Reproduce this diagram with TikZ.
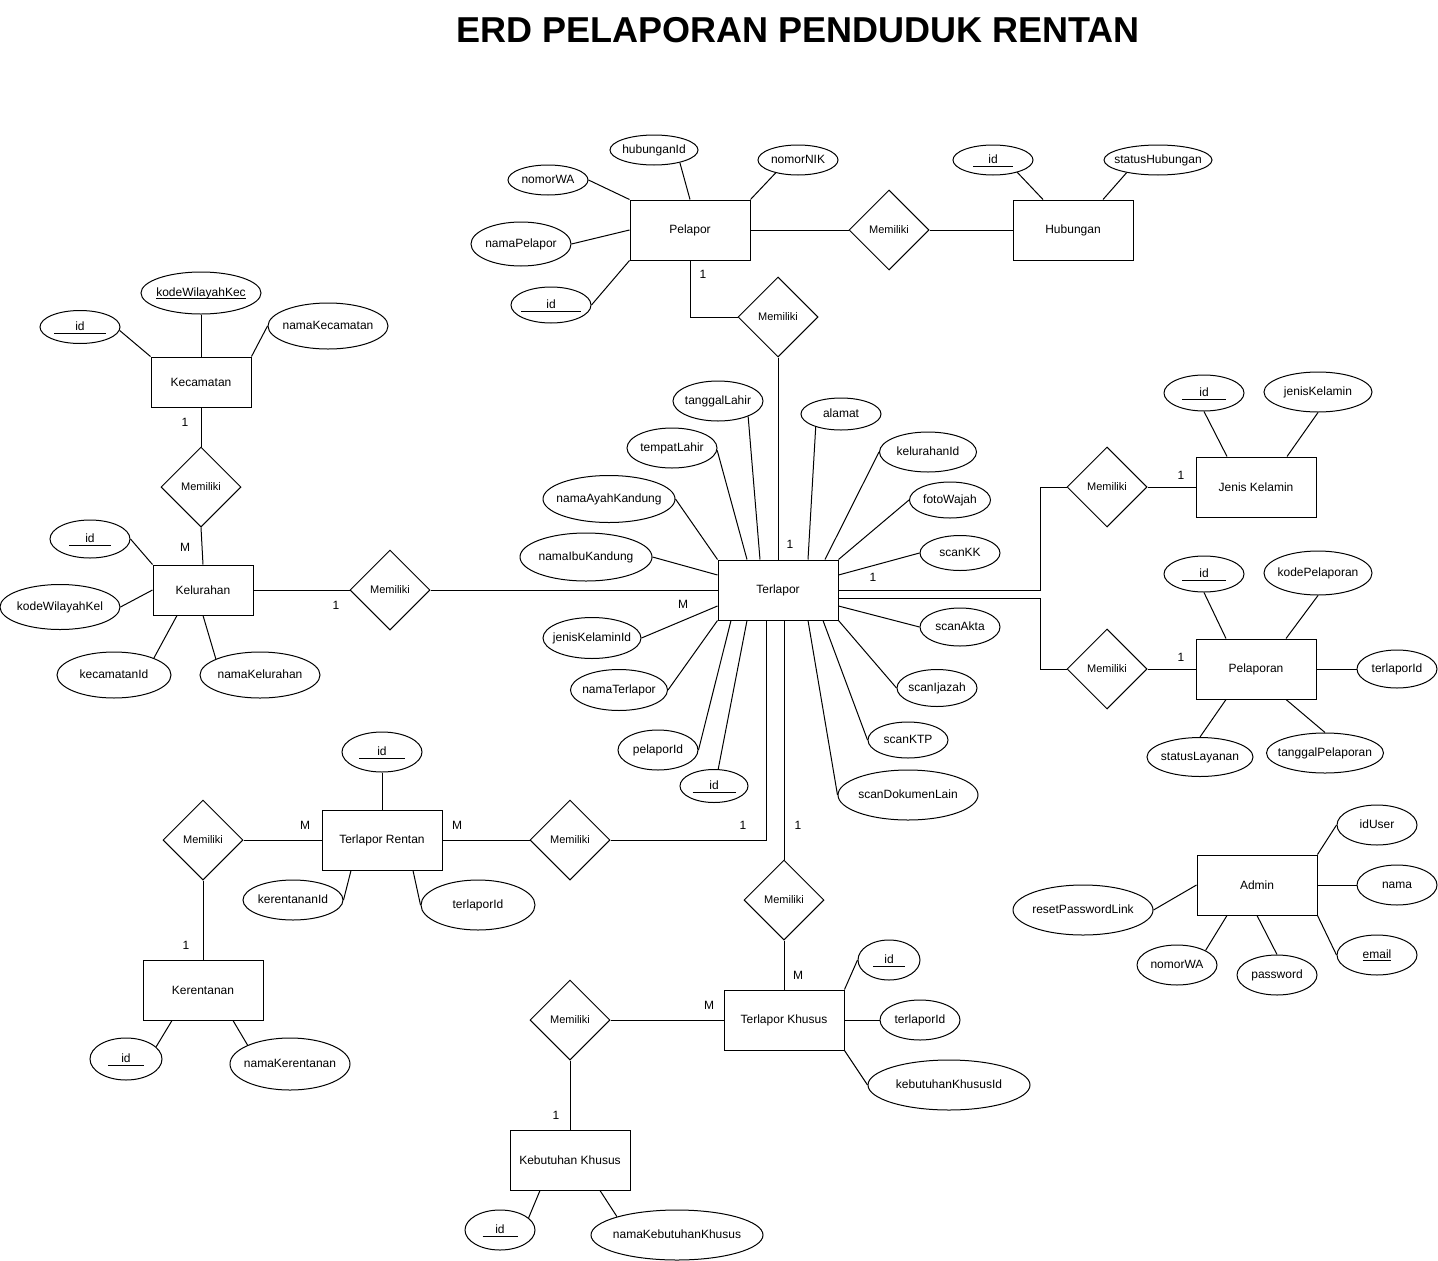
\documentclass[tikz,border=0pt]{standalone}
\usepackage{fontspec}
\setmainfont{Liberation Sans}
\usetikzlibrary{shapes.geometric}
\newcommand\fsz[1]{\fontsize{#1}{#1}\selectfont}
\newcommand\tx[1]{\raisebox{-0.33em}[0pt][0pt]{\makebox[0pt]{#1}}}
\newcommand\uid[1]{\makebox[#1pt]{id}\llap{\rule[-2.5pt]{#1pt}{0.8pt}}}
\newcommand\utext[1]{\setbox0=\hbox{#1}\copy0\llap{\rule[-2pt]{\wd0}{0.8pt}}}
\begin{document}
\begin{tikzpicture}[x=1pt,y=-1pt,line width=1pt,
  ent/.style={draw,rectangle,minimum width=120pt,minimum height=60pt,inner sep=0pt,font=\fsz{12}},
  sment/.style={ent,minimum width=100pt,minimum height=50pt},
  rel/.style={draw,diamond,minimum width=80pt,minimum height=80pt,inner sep=0pt,font=\fsz{11}},
  att/.style 2 args={draw,ellipse,minimum width=#1pt,minimum height=#2pt,inner sep=0pt,font=\fsz{12}},
  card/.style={font=\fsz{12},inner sep=0pt}]
\fill[white] (0,0) rectangle (1438,1261);
\useasboundingbox (0,0) rectangle (1438,1261);

\node[font=\fsz{36}\bfseries] (title) at (798,30) {ERD PELAPORAN PENDUDUK RENTAN};

% ---------- entities ----------
\node[ent] (pel) at (690,230) {Pelapor};
\node[ent] (hub) at (1073,230) {Hubungan};
\node[sment] (kec) at (201,382) {Kecamatan};
\node[sment] (kel) at (203,590) {Kelurahan};
\node[ent] (ter) at (778,590) {Terlapor};
\node[ent] (jk) at (1256,487) {Jenis Kelamin};
\node[ent] (plp) at (1256,669) {Pelaporan};
\node[ent] (adm) at (1257,885) {Admin};
\node[ent] (tr) at (382,840) {Terlapor Rentan};
\node[ent] (ker) at (203,990) {Kerentanan};
\node[ent] (tk) at (784,1020) {Terlapor Khusus};
\node[ent] (kk) at (570,1160) {Kebutuhan Khusus};

% ---------- relationships ----------
\node[rel] (d1) at (889,230) {Memiliki};
\node[rel] (d2) at (778,317) {Memiliki};
\node[rel] (d3) at (201,487) {Memiliki};
\node[rel] (d4) at (390,590) {Memiliki};
\node[rel] (d5) at (1107,487) {Memiliki};
\node[rel] (d6) at (1107,669) {Memiliki};
\node[rel] (d7) at (570,840) {Memiliki};
\node[rel] (d8) at (203,840) {Memiliki};
\node[rel] (d9) at (784,900) {Memiliki};
\node[rel] (d10) at (570,1020) {Memiliki};

% ---------- attributes ----------
% Pelapor
\node[att={88}{30}] (p_hub) at (654,150) {\tx{hubunganId}};
\node[att={80}{30}] (p_nik) at (798,160) {\tx{nomorNIK}};
\node[att={80}{30}] (p_wa) at (548,180) {\tx{nomorWA}};
\node[att={100}{44}] (p_nama) at (521,244) {\tx{namaPelapor}};
\node[att={80}{36}] (p_id) at (551,305) {\tx{\uid{60}}};
% Hubungan
\node[att={80}{30}] (h_id) at (993,160) {\tx{\uid{40}}};
\node[att={108}{30}] (h_st) at (1158,160) {\tx{statusHubungan}};
% Kecamatan
\node[att={120}{42}] (kc_kode) at (201,293) {\tx{\utext{kodeWilayahKec}}};
\node[att={80}{33}] (kc_id) at (80,327) {\tx{\uid{52}}};
\node[att={120}{46}] (kc_nama) at (328,326) {\tx{namaKecamatan}};
% Kelurahan
\node[att={80}{38}] (kl_id) at (90,539) {\tx{\uid{42}}};
\node[att={120}{45}] (kl_kode) at (60,607) {\tx{kodeWilayahKel}};
\node[att={114}{46}] (kl_kec) at (114,675) {\tx{kecamatanId}};
\node[att={120}{46}] (kl_nama) at (260,675) {\tx{namaKelurahan}};
% Terlapor
\node[att={90}{40}] (t_tgl) at (718,401) {\tx{tanggalLahir}};
\node[att={90}{40}] (t_tmp) at (672,448) {\tx{tempatLahir}};
\node[att={132}{47}] (t_ayah) at (609,499) {\tx{namaAyahKandung}};
\node[att={132}{48}] (t_ibu) at (586,557) {\tx{namaIbuKandung}};
\node[att={98}{41}] (t_jk) at (592,638) {\tx{jenisKelaminId}};
\node[att={97}{41}] (t_nama) at (619,690) {\tx{namaTerlapor}};
\node[att={80}{40}] (t_pel) at (658,750) {\tx{pelaporId}};
\node[att={68}{33}] (t_id) at (714,786) {\tx{\uid{43}}};
\node[att={80}{32}] (t_al) at (841,414) {\tx{alamat}};
\node[att={97}{40}] (t_kel) at (928,452) {\tx{kelurahanId}};
\node[att={81}{36}] (t_foto) at (950,500) {\tx{fotoWajah}};
\node[att={80}{35}] (t_kk) at (960,553) {\tx{scanKK}};
\node[att={80}{38}] (t_akta) at (960,627) {\tx{scanAkta}};
\node[att={80}{37}] (t_ijz) at (937,688) {\tx{scanIjazah}};
\node[att={80}{36}] (t_ktp) at (908,740) {\tx{scanKTP}};
\node[att={140}{50}] (t_dok) at (908,795) {\tx{scanDokumenLain}};
% Jenis Kelamin
\node[att={80}{36}] (jk_id) at (1204,393) {\tx{\uid{44}}};
\node[att={108}{40}] (jk_jk) at (1318,392) {\tx{jenisKelamin}};
% Pelaporan
\node[att={80}{36}] (pl_id) at (1204,574) {\tx{\uid{44}}};
\node[att={108}{44}] (pl_kode) at (1318,573) {\tx{kodePelaporan}};
\node[att={80}{38}] (pl_ter) at (1397,669) {\tx{terlaporId}};
\node[att={106}{39}] (pl_st) at (1200,757) {\tx{statusLayanan}};
\node[att={117}{40}] (pl_tgl) at (1325,753) {\tx{tanggalPelaporan}};
% Admin
\node[att={80}{40}] (a_id) at (1377,825) {\tx{idUser}};
\node[att={80}{40}] (a_nama) at (1397,885) {\tx{nama}};
\node[att={80}{40}] (a_mail) at (1377,955) {\tx{\utext{email}}};
\node[att={80}{40}] (a_pw) at (1277,975) {\tx{password}};
\node[att={80}{40}] (a_wa) at (1177,965) {\tx{nomorWA}};
\node[att={140}{50}] (a_rst) at (1083,910) {\tx{resetPasswordLink}};
% Terlapor Rentan
\node[att={80}{40}] (tr_id) at (382,752) {\tx{\uid{46}}};
\node[att={100}{40}] (tr_ker) at (293,900) {\tx{kerentananId}};
\node[att={114}{50}] (tr_ter) at (478,905) {\tx{terlaporId}};
% Kerentanan
\node[att={72}{42}] (kr_id) at (126,1059) {\tx{\uid{36}}};
\node[att={120}{52}] (kr_nama) at (290,1064) {\tx{namaKerentanan}};
% Terlapor Khusus
\node[att={62}{40}] (tk_id) at (889,960) {\tx{\uid{32}}};
\node[att={80}{40}] (tk_ter) at (920,1020) {\tx{terlaporId}};
\node[att={162}{50}] (tk_kk) at (949,1085) {\tx{kebutuhanKhususId}};
% Kebutuhan Khusus
\node[att={70}{40}] (kb_id) at (500,1230) {\tx{\uid{35}}};
\node[att={172}{50}] (kb_nama) at (677,1235) {\tx{namaKebutuhanKhusus}};

% ---------- cardinalities ----------
\node[card] (c1) at (703,274) {1};
\node[card] (c2) at (790,544) {1};
\node[card] (c3) at (185,422) {1};
\node[card] (c4) at (185,547) {M};
\node[card] (c5) at (336,605) {1};
\node[card] (c6) at (683,604) {M};
\node[card] (c7) at (1181,475) {1};
\node[card] (c8) at (873,577) {1};
\node[card] (c9) at (1181,657) {1};
\node[card] (c10) at (305,825) {M};
\node[card] (c11) at (457,825) {M};
\node[card] (c12) at (743,825) {1};
\node[card] (c13) at (798,825) {1};
\node[card] (c14) at (186,945) {1};
\node[card] (c15) at (798,975) {M};
\node[card] (c16) at (709,1005) {M};
\node[card] (c17) at (556,1115) {1};

% ---------- relationship lines ----------
\draw (pel.east) -- (d1.west);
\draw (d1.east) -- (hub.west);
\draw (pel.south) |- (d2.west);
\draw (d2.south) -- (ter.north);
\draw (kec.south) -- (d3.north);
\draw (d3.south) -- (kel.north);
\draw (kel.east) -- (d4.west);
\draw (d4.east) -- (ter.west);
\draw (ter.east) -| ([xshift=-26pt]d5.west) -- (d5.west);
\draw (d5.east) -- (jk.west);
\draw ([yshift=-8pt]ter.east) -| ([xshift=-26pt]d6.west) -- (d6.west);
\draw (d6.east) -- (plp.west);
\draw (tr.east) -- (d7.west);
\draw (d7.east) -| ([xshift=-12pt]ter.south);
\draw (d8.east) -- (tr.west);
\draw (d8.south) -- (ker.north);
\draw ([xshift=6pt]ter.south) -- (d9.north);
\draw (d9.south) -- (tk.north);
\draw (d10.east) -- (tk.west);
\draw (d10.south) -- (kk.north);

% ---------- attribute lines ----------
\draw (pel.north) -- (p_hub.-26);
\draw (pel.north east) -- (p_nik.-150);
\draw (pel.north west) -- (p_wa.east);
\draw (pel.west) -- (p_nama.east);
\draw (pel.south west) -- (p_id.east);
\draw ([xshift=-30pt]hub.north) -- (h_id.-27);
\draw ([xshift=30pt]hub.north) -- (h_st.-158);
\draw (kec.north) -- (kc_kode.south);
\draw (kec.north west) -- (kc_id.-5);
\draw (kec.north east) -- (kc_nama.west);
\draw (kel.north west) -- (kl_id.east);
\draw (kel.west) -- (kl_kode.east);
\draw ([xshift=-26pt]kel.south) -- (kl_kec.23);
\draw (kel.south) -- (kl_nama.160);
\draw ([xshift=-18pt]ter.north) -- (t_tgl.-27);
\draw ([xshift=-31pt]ter.north) -- (t_tmp.-3);
\draw (ter.north west) -- (t_ayah.east);
\draw ([yshift=15pt]ter.west) -- (t_ibu.east);
\draw ([yshift=-16pt]ter.west) -- (t_jk.east);
\draw (ter.south west) -- (t_nama.east);
\draw ([xshift=-47pt]ter.south) -- (t_pel.east);
\draw ([xshift=-31pt]ter.south) -- (t_id.76);
\draw ([xshift=30pt]ter.north) -- (t_al.-153);
\draw ([xshift=47pt]ter.north) -- (t_kel.west);
\draw (ter.north east) -- (t_foto.west);
\draw ([yshift=15pt]ter.east) -- (t_kk.west);
\draw ([yshift=-16pt]ter.east) -- (t_akta.west);
\draw (ter.south east) -- (t_ijz.west);
\draw ([xshift=45pt]ter.south) -- (t_ktp.west);
\draw ([xshift=30pt]ter.south) -- (t_dok.west);
\draw ([xshift=-29pt]jk.north) -- (jk_id.south);
\draw ([xshift=31pt]jk.north) -- (jk_jk.south);
\draw ([xshift=-30pt]plp.north) -- (pl_id.south);
\draw ([xshift=30pt]plp.north) -- (pl_kode.south);
\draw (plp.east) -- (pl_ter.west);
\draw ([xshift=-30pt]plp.south) -- (pl_st.north);
\draw ([xshift=30pt]plp.south) -- (pl_tgl.north);
\draw (adm.north east) -- (a_id.west);
\draw (adm.east) -- (a_nama.west);
\draw (adm.south east) -- (a_mail.west);
\draw (adm.south) -- (a_pw.north);
\draw ([xshift=-30pt]adm.south) -- (a_wa.27);
\draw (adm.west) -- (a_rst.east);
\draw (tr.north) -- (tr_id.south);
\draw ([xshift=-31pt]tr.south) -- (tr_ker.east);
\draw ([xshift=31pt]tr.south) -- (tr_ter.west);
\draw ([xshift=-31pt]ker.south) -- (kr_id.22);
\draw ([xshift=30pt]ker.south) -- (kr_nama.156);
\draw (tk.north east) -- (tk_id.west);
\draw (tk.east) -- (tk_ter.west);
\draw (tk.south east) -- (tk_kk.west);
\draw ([xshift=-30pt]kk.south) -- (kb_id.23);
\draw ([xshift=30pt]kk.south) -- (kb_nama.163);
\end{tikzpicture}
\end{document}
